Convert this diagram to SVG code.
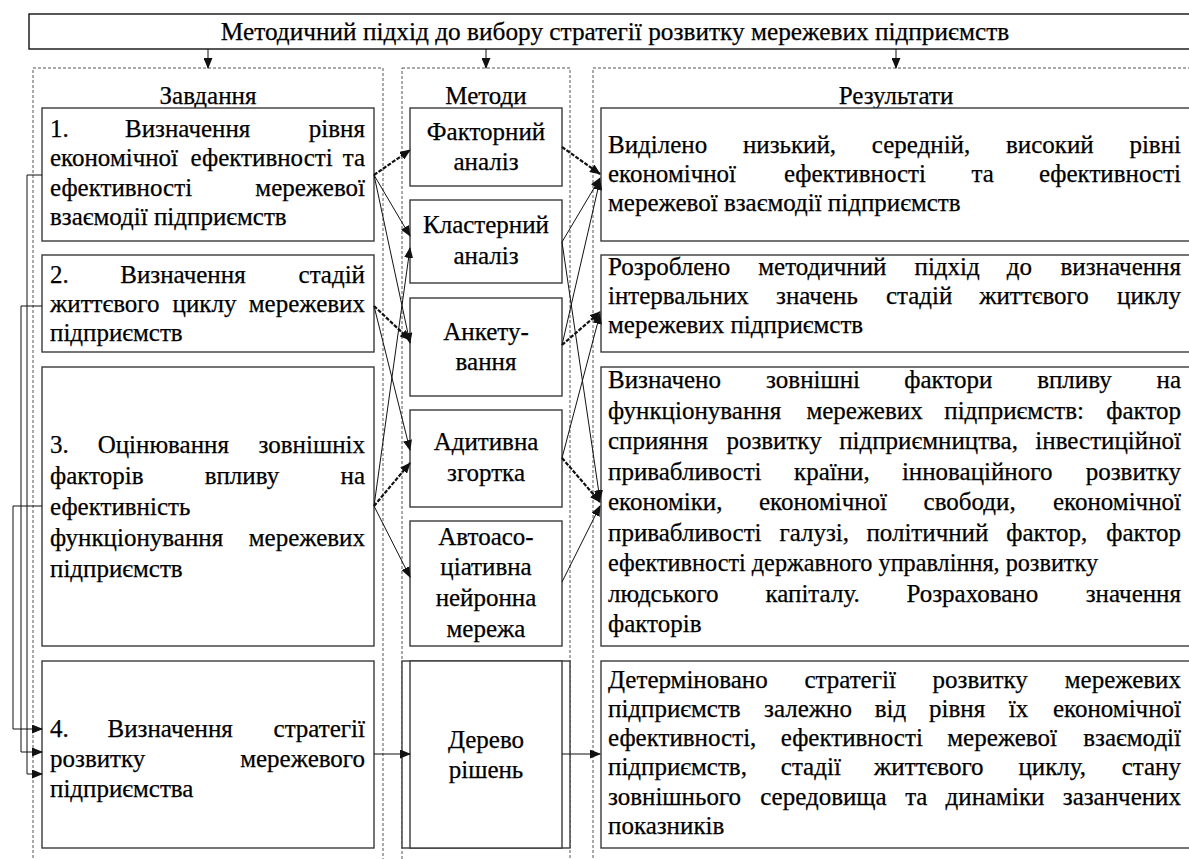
<svg xmlns="http://www.w3.org/2000/svg" width="1189" height="859" viewBox="0 0 1189 859">
<style>
text{font-family:"Liberation Serif","DejaVu Serif",serif;font-size:25px;fill:#000;stroke:#000;stroke-width:0.25}
.c{text-anchor:middle}
.e{text-anchor:end}
.box{fill:#fff;stroke:#3a3a3a;stroke-width:1.4}
.dash{fill:none;stroke:#555;stroke-width:1;stroke-dasharray:3 2}
.ln{fill:none;stroke:#111;stroke-width:1}
.bd{fill:none;stroke:#111;stroke-width:2.2;stroke-dasharray:4 1.5}
</style>
<defs>
<marker id="ah" markerUnits="userSpaceOnUse" markerWidth="11" markerHeight="9" refX="10" refY="4.5" orient="auto">
<path d="M0,0 L11,4.5 L0,9 z" fill="#111"/>
</marker>
</defs>

<g id="containers">
<rect class="dash" x="33" y="68" width="350" height="820"/>
<rect class="dash" x="402" y="68" width="168" height="820"/>
<rect class="dash" x="593" y="68" width="620" height="820"/>
<text class="c" x="208" y="104">Завдання</text>
<text class="c" x="486" y="104">Методи</text>
<text class="c" x="896" y="104">Результати</text>
</g>

<g id="title">
<rect x="29" y="14" width="1180" height="35" fill="#fff" stroke="#111" stroke-width="1.4"/>
<text class="c" x="615" y="40" style="font-size:25.3px">Методичний підхід до вибору стратегії розвитку мережевих підприємств</text>
</g>

<g id="task1">
<rect class="box" x="42" y="108" width="332" height="133"/>
<text y="137"><tspan x="50">1.</tspan> <tspan x="125">Визначення</tspan> <tspan x="365" class="e">рівня</tspan></text>
<text y="166"><tspan x="50">економічної</tspan> <tspan x="190.6">ефективності</tspan> <tspan x="365" class="e">та</tspan></text>
<text y="196"><tspan x="50">ефективності</tspan> <tspan x="365" class="e">мережевої</tspan></text>
<text x="50" y="225">взаємодії підприємств</text>
</g>
<g id="task2">
<rect class="box" x="42" y="255" width="332" height="97"/>
<text y="283"><tspan x="50">2.</tspan> <tspan x="120.3">Визначення</tspan> <tspan x="365" class="e">стадій</tspan></text>
<text y="312"><tspan x="50">життєвого</tspan> <tspan x="172.6">циклу</tspan> <tspan x="365" class="e">мережевих</tspan></text>
<text x="50" y="341">підприємств</text>
</g>
<g id="task3">
<rect class="box" x="42" y="367" width="332" height="279"/>
<text y="453"><tspan x="50">3.</tspan> <tspan x="97.7">Оцінювання</tspan> <tspan x="365" class="e">зовнішніх</tspan></text>
<text y="484"><tspan x="50">факторів</tspan> <tspan x="204.7">впливу</tspan> <tspan x="365" class="e">на</tspan></text>
<text x="50" y="515">ефективність</text>
<text y="546"><tspan x="50">функціонування</tspan> <tspan x="365" class="e">мережевих</tspan></text>
<text x="50" y="577">підприємств</text>
</g>
<g id="task4">
<rect class="box" x="42" y="661" width="332" height="187"/>
<text y="737"><tspan x="50">4.</tspan> <tspan x="107.5">Визначення</tspan> <tspan x="365" class="e">стратегії</tspan></text>
<text y="767"><tspan x="50">розвитку</tspan> <tspan x="365" class="e">мережевого</tspan></text>
<text x="50" y="797">підприємства</text>
</g>

<g id="m-factor">
<rect class="box" x="410" y="108" width="152" height="78"/>
<text class="c" x="486" y="140">Факторний</text>
<text class="c" x="486" y="170">аналіз</text>
</g>
<g id="m-cluster">
<rect class="box" x="410" y="200" width="152" height="83"/>
<text class="c" x="486" y="233">Кластерний</text>
<text class="c" x="486" y="264">аналіз</text>
</g>
<g id="m-survey">
<rect class="box" x="410" y="298" width="152" height="98"/>
<text class="c" x="486" y="340">Анкету-</text>
<text class="c" x="486" y="370">вання</text>
</g>
<g id="m-additive">
<rect class="box" x="410" y="410" width="152" height="97"/>
<text class="c" x="486" y="450">Адитивна</text>
<text class="c" x="486" y="481">згортка</text>
</g>
<g id="m-neural">
<rect class="box" x="410" y="521" width="152" height="125"/>
<text class="c" x="486" y="545">Автоасо-</text>
<text class="c" x="486" y="575">ціативна</text>
<text class="c" x="486" y="606">нейронна</text>
<text class="c" x="486" y="637">мережа</text>
</g>
<g id="m-tree">
<rect class="box" x="402" y="661" width="168" height="187"/>
<rect class="box" x="410" y="661" width="152" height="187"/>
<text class="c" x="486" y="748">Дерево</text>
<text class="c" x="486" y="778">рішень</text>
</g>

<g id="r1">
<rect class="box" x="601" y="108" width="610" height="133"/>
<text y="153"><tspan x="608">Виділено</tspan> <tspan x="742.9">низький,</tspan> <tspan x="871.8">середній,</tspan> <tspan x="1006">високий</tspan> <tspan x="1181" class="e">рівні</tspan></text>
<text y="182"><tspan x="608">економічної</tspan> <tspan x="783.9">ефективності</tspan> <tspan x="971.5">та</tspan> <tspan x="1181" class="e">ефективності</tspan></text>
<text x="608" y="211">мережевої взаємодії підприємств</text>
</g>
<g id="r2">
<rect class="box" x="601" y="255" width="610" height="97"/>
<text y="275"><tspan x="608">Розроблено</tspan> <tspan x="758.3">методичний</tspan> <tspan x="914.5">підхід</tspan> <tspan x="1006.8">до</tspan> <tspan x="1181" class="e">визначення</tspan></text>
<text y="304"><tspan x="608">інтервальних</tspan> <tspan x="776">значень</tspan> <tspan x="885.9">стадій</tspan> <tspan x="979.2">життєвого</tspan> <tspan x="1181" class="e">циклу</tspan></text>
<text x="608" y="333">мережевих підприємств</text>
</g>
<g id="r3">
<rect class="box" x="601" y="367" width="610" height="279"/>
<text y="388"><tspan x="608">Визначено</tspan> <tspan x="766.1">зовнішні</tspan> <tspan x="904.3">фактори</tspan> <tspan x="1037.2">впливу</tspan> <tspan x="1181" class="e">на</tspan></text>
<text y="418.5"><tspan x="608">функціонування</tspan> <tspan x="806.4">мережевих</tspan> <tspan x="944.3">підприємств:</tspan> <tspan x="1181" class="e">фактор</tspan></text>
<text y="449"><tspan x="608">сприяння</tspan> <tspan x="726.4">розвитку</tspan> <tspan x="839.2">підприємництва,</tspan> <tspan x="1181" class="e">інвестиційної</tspan></text>
<text y="479.5"><tspan x="608">привабливості</tspan> <tspan x="794">країни,</tspan> <tspan x="901.9">інноваційного</tspan> <tspan x="1181" class="e">розвитку</tspan></text>
<text y="510"><tspan x="608">економіки,</tspan> <tspan x="759">економічної</tspan> <tspan x="923.6">свободи,</tspan> <tspan x="1181" class="e">економічної</tspan></text>
<text y="540.5"><tspan x="608">привабливості</tspan> <tspan x="779.4">галузі,</tspan> <tspan x="866.4">політичний</tspan> <tspan x="1006.3">фактор,</tspan> <tspan x="1181" class="e">фактор</tspan></text>
<text x="608" y="571" textLength="490" lengthAdjust="spacingAndGlyphs">ефективності державного управління, розвитку</text>
<text y="601.5"><tspan x="608">людського</tspan> <tspan x="765.5">капіталу.</tspan> <tspan x="906.4">Розраховано</tspan> <tspan x="1181" class="e">значення</tspan></text>
<text x="608" y="632">факторів</text>
</g>
<g id="r4">
<rect class="box" x="601" y="661" width="610" height="187"/>
<text y="688"><tspan x="608">Детерміновано</tspan> <tspan x="804.4">стратегії</tspan> <tspan x="932.5">розвитку</tspan> <tspan x="1181" class="e">мережевих</tspan></text>
<text y="717"><tspan x="608">підприємств</tspan> <tspan x="764">залежно</tspan> <tspan x="874.7">від</tspan> <tspan x="929.1">рівня</tspan> <tspan x="1008.8">їх</tspan> <tspan x="1181" class="e">економічної</tspan></text>
<text y="746"><tspan x="608">ефективності,</tspan> <tspan x="780.75">ефективності</tspan> <tspan x="947.25">мережевої</tspan> <tspan x="1181" class="e">взаємодії</tspan></text>
<text y="775"><tspan x="608">підприємств,</tspan> <tspan x="780.8">стадії</tspan> <tspan x="874.1">життєвого</tspan> <tspan x="1018.4">циклу,</tspan> <tspan x="1181" class="e">стану</tspan></text>
<text y="805"><tspan x="608">зовнішнього</tspan> <tspan x="760.2">середовища</tspan> <tspan x="905.15">та</tspan> <tspan x="945.55">динаміки</tspan> <tspan x="1181" class="e">зазанчених</tspan></text>
<text x="608" y="834">показників</text>
</g>

<g id="connectors">
<line class="ln" x1="208" y1="49" x2="208" y2="68" marker-end="url(#ah)"/>
<line class="ln" x1="486" y1="49" x2="486" y2="68" marker-end="url(#ah)"/>
<line class="ln" x1="896" y1="49" x2="896" y2="68" marker-end="url(#ah)"/>

<line class="bd" x1="374" y1="175" x2="410" y2="150" marker-end="url(#ah)"/>
<line class="ln" x1="374" y1="175" x2="410" y2="236" marker-end="url(#ah)"/>
<line class="ln" x1="374" y1="175" x2="410" y2="343" marker-end="url(#ah)"/>
<line class="bd" x1="374" y1="306" x2="410" y2="340" marker-end="url(#ah)"/>
<line class="ln" x1="374" y1="306" x2="410" y2="450" marker-end="url(#ah)"/>
<line class="bd" x1="374" y1="506" x2="410" y2="463" marker-end="url(#ah)"/>
<line class="ln" x1="374" y1="506" x2="410" y2="248" marker-end="url(#ah)"/>
<line class="ln" x1="374" y1="506" x2="410" y2="577" marker-end="url(#ah)"/>

<line class="bd" x1="562" y1="147" x2="600" y2="174" marker-end="url(#ah)"/>
<line class="ln" x1="562" y1="242" x2="600" y2="178" marker-end="url(#ah)"/>
<line class="ln" x1="562" y1="345" x2="600" y2="180" marker-end="url(#ah)"/>
<line class="bd" x1="562" y1="345" x2="600" y2="312" marker-end="url(#ah)"/>
<line class="ln" x1="562" y1="458" x2="600" y2="314" marker-end="url(#ah)"/>
<line class="ln" x1="562" y1="242" x2="600" y2="500" marker-end="url(#ah)"/>
<line class="bd" x1="562" y1="458" x2="600" y2="502" marker-end="url(#ah)"/>
<line class="ln" x1="562" y1="582" x2="600" y2="506" marker-end="url(#ah)"/>

<polyline class="ln" points="42,175 27,175 27,774 42,774" marker-end="url(#ah)"/>
<polyline class="ln" points="42,306 21,306 21,752 42,752" marker-end="url(#ah)"/>
<polyline class="ln" points="42,506 13,506 13,729 42,729" marker-end="url(#ah)"/>

<line class="ln" x1="374" y1="754" x2="410" y2="754" marker-end="url(#ah)"/>
<line class="ln" x1="562" y1="754" x2="600" y2="754" marker-end="url(#ah)"/>
</g>
</svg>
